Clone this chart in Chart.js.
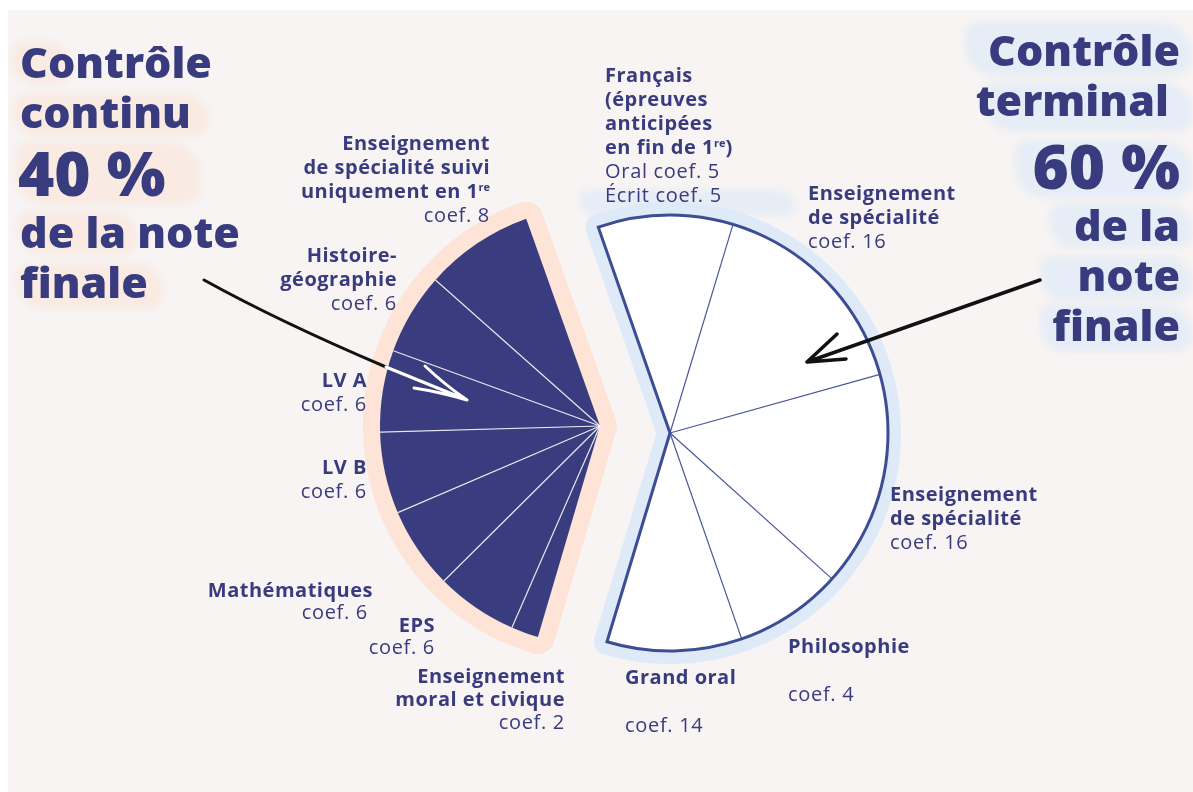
<!DOCTYPE html>
<html lang="fr">
<head>
<meta charset="utf-8">
<script src="https://cdn.jsdelivr.net/npm/chart.js@4.4.1/dist/chart.umd.min.js"></script>
<style>
  html, body { margin: 0; padding: 0; background: #fff; }
  #stage { position: relative; width: 1193px; height: 792px; overflow: hidden; background: #fff; }
  #paper { position: absolute; left: 8px; top: 10px; right: 0; bottom: 0; background: #f7f4f3; }
  .brush { position: absolute; border-radius: 14px 34px 20px 30px; filter: blur(3px); }
  .peach { background: rgba(252, 226, 210, 0.5); }
  .blue { background: rgba(218, 232, 247, 0.55); }
  canvas { position: absolute; left: 0; top: 0; }
  .lbl { position: absolute; font-family: "Open Sans", sans-serif; font-size: 20px; line-height: 24px; color: #383b7e; white-space: nowrap; letter-spacing: 0.7px; }
  .lbl b { font-weight: 700; letter-spacing: 0.5px; }
  .r { text-align: right; }
  sup { font-size: 11px; line-height: 0; vertical-align: 7px; font-weight: 700; letter-spacing: 0; }
  .title { position: absolute; font-family: "Open Sans", sans-serif; font-weight: 800; color: #383b7e; font-size: 43px; line-height: 50px; white-space: nowrap; }
  .big { font-size: 62px; line-height: 64px; }
</style>
</head>
<body>
<div id="stage">
  <div id="paper"></div>

  <!-- brush strokes behind the titles -->
  <div class="brush peach" style="left:12px;top:42px;width:60px;height:42px;"></div>
  <div class="brush peach" style="left:14px;top:94px;width:195px;height:42px;"></div>
  <div class="brush peach" style="left:16px;top:142px;width:185px;height:62px;"></div>
  <div class="brush peach" style="left:18px;top:212px;width:120px;height:42px;"></div>
  <div class="brush peach" style="left:18px;top:264px;width:145px;height:44px;"></div>

  <div class="brush blue" style="left:965px;top:22px;width:228px;height:54px;"></div>
  <div class="brush blue" style="left:985px;top:82px;width:208px;height:50px;"></div>
  <div class="brush blue" style="left:1015px;top:140px;width:178px;height:58px;"></div>
  <div class="brush blue" style="left:1050px;top:204px;width:143px;height:44px;"></div>
  <div class="brush blue" style="left:1040px;top:256px;width:153px;height:44px;"></div>
  <div class="brush blue" style="left:1040px;top:304px;width:153px;height:48px;"></div>
  <div class="brush blue" style="left:580px;top:190px;width:215px;height:26px;"></div>

  <canvas id="continu" width="1193" height="792"></canvas>
  <canvas id="terminal" width="1193" height="792"></canvas>

  <!-- titles -->
  <div class="title" style="left:20px;top:37px;">Contrôle<br>continu</div>
  <div class="title big" style="left:18px;top:140px;">40 %</div>
  <div class="title" style="left:20px;top:207px;">de la note<br>finale</div>

  <div class="title" style="right:13px;top:25px;text-align:right;">Contrôle<br>terminal&nbsp;</div>
  <div class="title big" style="right:13px;top:133px;text-align:right;">60 %</div>
  <div class="title" style="right:13px;top:200px;text-align:right;line-height:50px;">de la<br>note<br>finale</div>

  <!-- contrôle continu labels -->
  <div class="lbl r" style="right:703px;top:131px;"><b>Enseignement<br>de spécialité suivi<br>uniquement en 1<sup>re</sup></b><br>coef. 8</div>
  <div class="lbl r" style="right:796px;top:243px;"><b>Histoire-<br>géographie</b><br>coef. 6</div>
  <div class="lbl r" style="right:826px;top:368px;"><b>LV A</b><br>coef. 6</div>
  <div class="lbl r" style="right:826px;top:455px;"><b>LV B</b><br>coef. 6</div>
  <div class="lbl r" style="right:820px;top:579px;line-height:22px;"><b>Mathématiques</b><br><span style="padding-right:5px">coef. 6</span></div>
  <div class="lbl r" style="right:758px;top:614px;line-height:22px;"><b>EPS</b><br>coef. 6</div>
  <div class="lbl r" style="right:628px;top:664px;line-height:23px;"><b>Enseignement<br>moral et civique</b><br>coef. 2</div>

  <!-- contrôle terminal labels -->
  <div class="lbl" style="left:605px;top:63px;"><b>Français<br>(épreuves<br>anticipées<br>en fin de 1<sup>re</sup>)</b><br>Oral coef. 5<br>Écrit coef. 5</div>
  <div class="lbl" style="left:808px;top:181px;"><b>Enseignement<br>de spécialité</b><br>coef. 16</div>
  <div class="lbl" style="left:890px;top:482px;"><b>Enseignement<br>de spécialité</b><br>coef. 16</div>
  <div class="lbl" style="left:788px;top:634px;line-height:24px;"><b>Philosophie</b><br><br>coef. 4</div>
  <div class="lbl" style="left:625px;top:665px;line-height:24px;"><b>Grand oral</b><br><br>coef. 14</div>
</div>

<script>
// Contrôle continu (40 %), slices listed clockwise from the bottom
const continuLabels = ['Enseignement moral et civique', 'EPS', 'Mathématiques', 'LV B', 'LV A',
    'Histoire-géographie', 'Enseignement de spécialité suivi uniquement en 1re'];
const continuCoefs = [2, 6, 6, 6, 6, 6, 8];

// Contrôle terminal (60 %), slices listed clockwise from the top
const terminalLabels = ['Français', 'Enseignement de spécialité', 'Enseignement de spécialité',
    'Philosophie', 'Grand oral'];
const terminalCoefs = [10, 16, 16, 8, 10];   // slice sizes as drawn

const shares = [40, 60];   // % of the final mark

const W = 1193, H = 792;
const NAVY = '#393c7e';
const OUTLINE = '#3d4d95';

// padding so that the chart area is the bounding box of the sector,
// which puts the pie centre exactly at (cx, cy) with a fixed radius
function sectorPadding(cx, cy, R, rotDeg, circDeg) {
    const a0 = (rotDeg - 90) * Math.PI / 180;
    const a1 = a0 + circDeg * Math.PI / 180;
    const xs = [0, Math.cos(a0), Math.cos(a1)];
    const ys = [0, Math.sin(a0), Math.sin(a1)];
    for (let k = -4; k <= 4; k++) {
        const a = k * Math.PI / 2;
        if (a > a0 && a < a1) { xs.push(Math.cos(a)); ys.push(Math.sin(a)); }
    }
    return {
        left: cx + R * Math.min(...xs),
        right: W - (cx + R * Math.max(...xs)),
        top: cy + R * Math.min(...ys),
        bottom: H - (cy + R * Math.max(...ys))
    };
}

function sectorPath(ctx, arcs) {
    const first = arcs[0], last = arcs[arcs.length - 1];
    ctx.beginPath();
    ctx.moveTo(first.x, first.y);
    ctx.arc(first.x, first.y, first.outerRadius, first.startAngle, last.endAngle);
    ctx.closePath();
}

// halo behind the sector, separators and outline on top
function sectorDecor(halo, haloWidth, sepColor, sepWidth, outline) {
    return {
        id: 'sectorDecor',
        beforeDatasetsDraw(chart) {
            const arcs = chart.getDatasetMeta(0).data;
            const ctx = chart.ctx;
            ctx.save();
            sectorPath(ctx, arcs);
            ctx.fillStyle = halo;
            ctx.strokeStyle = halo;
            ctx.lineWidth = haloWidth * 2;
            ctx.lineJoin = 'round';
            ctx.fill();
            ctx.stroke();
            ctx.restore();
        },
        afterDatasetsDraw(chart) {
            const arcs = chart.getDatasetMeta(0).data;
            const ctx = chart.ctx;
            ctx.save();
            ctx.strokeStyle = sepColor;
            ctx.lineWidth = sepWidth;
            arcs.slice(1).forEach(a => {
                ctx.beginPath();
                ctx.moveTo(a.x, a.y);
                ctx.lineTo(a.x + a.outerRadius * Math.cos(a.startAngle), a.y + a.outerRadius * Math.sin(a.startAngle));
                ctx.stroke();
            });
            if (outline) {
                sectorPath(ctx, arcs);
                ctx.strokeStyle = outline;
                ctx.lineWidth = 3;
                ctx.lineJoin = 'miter';
                ctx.stroke();
            }
            ctx.restore();
        }
    };
}

// hand drawn arrows
const arrows = {
    id: 'arrows',
    afterDraw(chart) {
        const ctx = chart.ctx;
        ctx.save();
        ctx.lineCap = 'round';
        ctx.lineJoin = 'round';
        // left arrow, black outside the pie and white inside
        ctx.strokeStyle = '#111';
        ctx.lineWidth = 3;
        ctx.beginPath();
        ctx.moveTo(204, 280);
        ctx.quadraticCurveTo(280, 322, 386, 367);
        ctx.stroke();
        ctx.strokeStyle = '#fff';
        ctx.lineWidth = 3;
        ctx.beginPath();
        ctx.moveTo(386, 367);
        ctx.lineTo(467, 400);
        ctx.moveTo(425, 366);
        ctx.quadraticCurveTo(445, 385, 467, 400);
        ctx.moveTo(414, 388);
        ctx.quadraticCurveTo(440, 392, 467, 400);
        ctx.stroke();
        // right arrow
        ctx.strokeStyle = '#111';
        ctx.lineWidth = 3.5;
        ctx.beginPath();
        ctx.moveTo(1040, 280);
        ctx.lineTo(807, 362);
        ctx.moveTo(837, 334);
        ctx.lineTo(807, 362);
        ctx.lineTo(846, 359);
        ctx.stroke();
        ctx.restore();
    }
};

const commonOptions = {
    responsive: false,
    animation: false,
    events: [],
    plugins: { legend: { display: false }, tooltip: { enabled: false } }
};

// left sector: centre (600, 426), radius 220, 144° ending 19.6° left of top
const leftRot = -163.6, leftCirc = shares[0] * 3.6;
new Chart(document.getElementById('continu'), {
    type: 'pie',
    data: {
        labels: continuLabels,
        datasets: [{
            data: continuCoefs,
            backgroundColor: NAVY,
            borderWidth: 0,
            hoverOffset: 0
        }]
    },
    options: Object.assign({}, commonOptions, {
        rotation: leftRot,
        circumference: leftCirc,
        radius: 220,
        layout: { padding: sectorPadding(600, 426, 220, leftRot, leftCirc) }
    }),
    plugins: [sectorDecor('#fde4d7', 17, 'rgba(255,255,255,0.85)', 1.2, null)]
});

// right sector: centre (670, 433), radius 218, 216° starting 19.2° left of top
const rightRot = -19.2, rightCirc = shares[1] * 3.6;
new Chart(document.getElementById('terminal'), {
    type: 'pie',
    data: {
        labels: terminalLabels,
        datasets: [{
            data: terminalCoefs,
            backgroundColor: '#ffffff',
            borderWidth: 0,
            hoverOffset: 0
        }]
    },
    options: Object.assign({}, commonOptions, {
        rotation: rightRot,
        circumference: rightCirc,
        radius: 218,
        layout: { padding: sectorPadding(670, 433, 218, rightRot, rightCirc) }
    }),
    plugins: [sectorDecor('#deeaf7', 13, '#4a5799', 1.2, OUTLINE), arrows]
});
</script>
</body>
</html>
